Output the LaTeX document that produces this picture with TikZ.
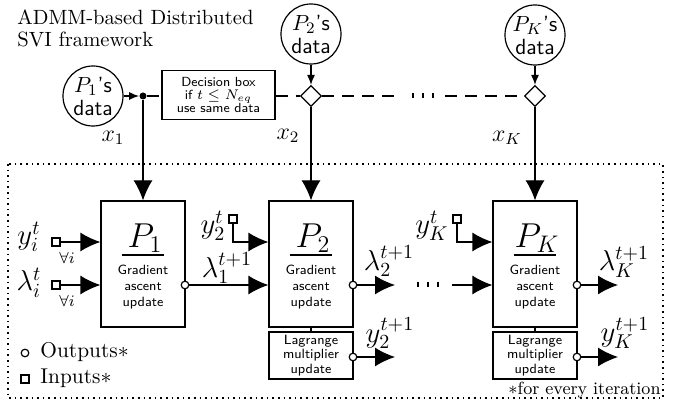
\documentclass[tikz,border=0pt]{standalone}
\usetikzlibrary{arrows.meta,shapes.geometric,calc}
\begin{document}
\begin{tikzpicture}[x=0.5pt,y=-0.5pt]
\tikzset{
  ln/.style={line width=0.6pt},
  pbox/.style={draw, line width=0.6pt, minimum width=42pt, minimum height=63pt, inner sep=0pt},
  lbox/.style={draw, line width=0.6pt, minimum width=42pt, minimum height=23.5pt, inner sep=0pt, font=\sffamily\fontsize{6.7}{7.4}\selectfont, align=center},
  dbox/.style={draw, line width=0.6pt, minimum width=56.5pt, minimum height=24.5pt, inner sep=0pt, font=\sffamily\fontsize{6.6}{6.6}\selectfont, align=center, fill=white},
  datac/.style={draw, line width=0.6pt, circle, minimum size=30pt, inner sep=0pt, align=center, font=\sffamily\fontsize{11}{11.5}\selectfont},
  dia/.style={draw, line width=0.6pt, diamond, minimum width=10.5pt, minimum height=10.5pt, inner sep=0pt, fill=white},
  outc/.style={draw, line width=0.6pt, circle, minimum size=3.8pt, inner sep=0pt, fill=white},
  ins/.style={draw, line width=0.6pt, rectangle, minimum size=4pt, inner sep=0pt, fill=white},
  jdot/.style={circle, fill=black, minimum size=3.5pt, inner sep=0pt},
  bigarr/.style={line width=0.6pt, -{Latex[length=10pt,width=9.5pt]}},
  smarr/.style={line width=0.6pt, -{Latex[length=5pt,width=4pt]}},
  dsh/.style={line width=0.6pt, dash pattern=on 6pt off 4pt},
  vdots/.style={line width=2.5pt, dash pattern=on 0.9pt off 4.1pt},
  gtext/.style={font=\sffamily\fontsize{6.7}{7.8}\selectfont, align=center, inner sep=0pt},
  plab/.style={font=\LARGE, inner sep=0pt},
  mlab/.style={font=\Large, inner sep=0pt},
  xlab/.style={font=\large, inner sep=0pt},
  frm/.style={dotted, line width=0.8pt},
}
\useasboundingbox (0,0) rectangle (681,406);

% title
\node[anchor=north west, align=left, inner sep=0pt, font=\fontsize{10.3}{11}\selectfont] (title) at (17,9) {ADMM-based Distributed\\SVI framework};

% frame
\draw[frm] (8,164) rectangle (663,398);

% data sources
\node[datac] (c1) at (93,96) {$P_1$'s\\data};
\node[datac] (c2) at (311,34) {$P_2$'s\\data};
\node[datac] (cK) at (535,35) {$P_K$'s\\data};
\node[jdot] (jd) at (143,96) {};
\node[dbox] (db) at (218.5,95) {Decision box\\if $t\leq N_{eq}$\\use same data};
\node[dia] (d2) at (311,96) {};
\node[dia] (dK) at (535,96) {};
\coordinate (da) at (400,96);
\coordinate (dbb) at (445,96);

\draw[smarr] (c1) -- (jd);
\draw[smarr] (c2) -- (d2);
\draw[smarr] (cK) -- (dK);
\draw[dsh] (jd) -- (jd -| db.west);
\draw[dsh] (db.east |- d2) -- (d2);
\draw[dsh] (d2) -- (da);
\draw[vdots] (412,96) -- (434,96);
\draw[dsh] (dbb) -- (dK);

% processor boxes
\node[pbox] (p1) at (143,264) {};
\node[pbox] (p2) at (311,264) {};
\node[pbox] (pK) at (535,264) {};
\node[lbox] (l2) at (311,355.5) {Lagrange\\multiplier\\update};
\node[lbox] (lK) at (535,355.5) {Lagrange\\multiplier\\update};
\draw[ln] (p2) -- (l2);
\draw[ln] (pK) -- (lK);

\draw[bigarr] (jd) -- (p1);
\draw[bigarr] (d2) -- (p2);
\draw[bigarr] (dK) -- (pK);

\node[xlab] (x1) at (113,138) {$x_1$};
\node[xlab] (x2) at (288,136) {$x_2$};
\node[xlab] (xK) at (507,138) {$x_K$};

\node[plab] (p1n) at (145,238) {$P_1$};
\node[plab] (p2n) at (313,238) {$P_2$};
\node[plab] (pKn) at (537,238) {$P_K$};
\draw[ln] (122,255) -- (164,255);
\draw[ln] (290,255) -- (332,255);
\draw[ln] (514,255) -- (556,255);
\node[gtext] (p1g) at (143,287) {Gradient\\ascent\\update};
\node[gtext] (p2g) at (311,287) {Gradient\\ascent\\update};
\node[gtext] (pKg) at (535,287) {Gradient\\ascent\\update};

% inputs to P1
\node[ins] (iy) at (56,242) {};
\node[ins] (il) at (56,285) {};
\draw[bigarr] (iy) -- (iy -| p1.west);
\draw[bigarr] (il) -- (il -| p1.west);
\node[mlab] (iyl) at (29,237) {$y_i^t$};
\node[mlab] (ill) at (29,283) {$\lambda_i^t$};
\node[font=\footnotesize, inner sep=0pt] (fa1) at (67,258) {$\forall i$};
\node[font=\footnotesize, inner sep=0pt] (fa2) at (67,301) {$\forall i$};

% P1 -> P2
\node[outc] (o1) at (185,285) {};
\draw[bigarr] (o1) -- (o1 -| p2.west);
\node[mlab] (o1l) at (227,268) {$\lambda_1^{t+1}$};
\node[ins] (s2) at (233,219) {};
\draw[bigarr] (s2) |- (p2.west |- iy);
\node[mlab] (s2l) at (213,226) {$y_2^t$};

% P2 outputs
\node[outc] (o2) at (353,285) {};
\coordinate (o2e) at (395,285);
\draw[bigarr] (o2) -- (o2e);
\node[mlab] (o2l) at (389,261) {$\lambda_2^{t+1}$};
\draw[vdots] (417,285) -- (439,285);
\coordinate (kin) at (452,285);
\draw[bigarr] (kin) -- (kin -| pK.west);
\node[ins] (sK) at (457,219) {};
\draw[bigarr] (sK) |- (pK.west |- iy);
\node[mlab] (sKl) at (432,226) {$y_K^t$};

% PK outputs
\node[outc] (oK) at (577,285) {};
\coordinate (oKe) at (618,285);
\draw[bigarr] (oK) -- (oKe);
\node[mlab] (oKl) at (624,262) {$\lambda_K^{t+1}$};

% Lagrange outputs
\node[outc] (q2) at (353,357) {};
\coordinate (q2e) at (395,357);
\draw[bigarr] (q2) -- (q2e);
\node[mlab] (q2l) at (390,333) {$y_2^{t+1}$};
\node[outc] (qK) at (577,357) {};
\coordinate (qKe) at (618,357);
\draw[bigarr] (qK) -- (qKe);
\node[mlab] (qKl) at (625,333) {$y_K^{t+1}$};

% legend
\node[outc] (lo) at (25,353) {};
\node[anchor=base west, inner sep=0pt, font=\fontsize{10.7}{12}\selectfont] (lot) at (40,358) {Outputs$*$};
\node[ins] (li) at (25,379) {};
\node[anchor=base west, inner sep=0pt, font=\fontsize{10.7}{12}\selectfont] (lit) at (40,384) {Inputs$*$};
\node[anchor=base east, inner sep=0pt, font=\fontsize{8.8}{10}\selectfont] (fn) at (661,395) {$*$for every iteration};
\end{tikzpicture}
\end{document}
